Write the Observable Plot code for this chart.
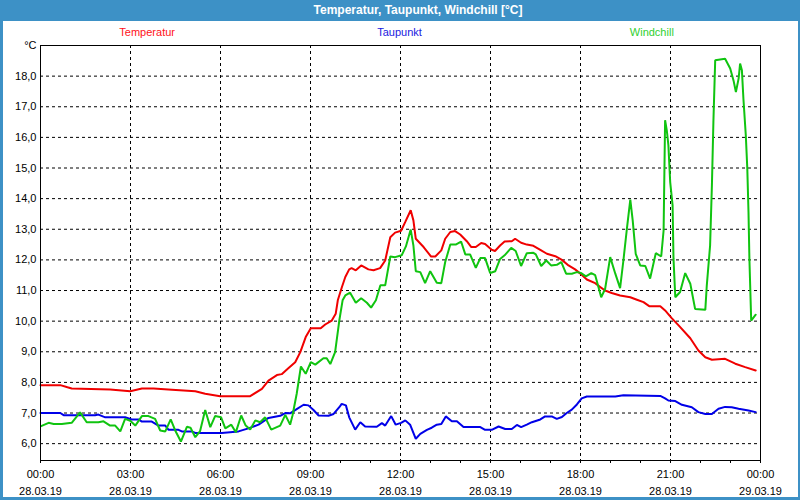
<!DOCTYPE html>
<html>
<head>
<meta charset="utf-8">
<script src="https://cdn.jsdelivr.net/npm/d3@7"></script>
<script src="https://cdn.jsdelivr.net/npm/@observablehq/plot@0.6"></script>
<style>
  html, body { margin: 0; padding: 0; background: #fff; }
  #win { position: relative; width: 800px; height: 500px; background: #3d91c6; overflow: hidden; font-family: "Liberation Sans", Arial, sans-serif; }
  #title { position: absolute; left: 36px; right: 0; top: 0; height: 21px; line-height: 21px; text-align: center; color: #fff; font-weight: bold; font-size: 12px; }
  #panel { position: absolute; left: 3px; top: 21px; width: 795px; height: 476px; background: #fff; }
  #legend { position: absolute; left: 18px; top: 5px; width: 757px; display: flex; font-size: 11px; }
  #legend span { flex: 1; text-align: center; }
  #chart { position: absolute; left: 0; top: 0; }
</style>
</head>
<body>
<div id="win">
  <div id="title">Temperatur, Taupunkt, Windchill [°C]</div>
  <div id="panel">
    <div id="chart"></div>
    <div id="legend"></div>
  </div>
</div>
<script>
// ---- data (hours since 28.03.19 00:00, °C) ----
const seriesNames = ["Temperatur", "Taupunkt", "Windchill"];
const seriesColors = ["#f00000", "#0000e8", "#10c410"];
const legendColors = ["#ff1020", "#2020e0", "#30d030"];

const tempHours = [0,0.66,0.9,1.04,2.32,2.99,3.38,3.77,4.38,5.16,5.49,5.99,6.99,7.38,7.6,7.88,8.04,8.27,8.49,8.66,8.84,9.01,9.34,9.49,9.71,9.84,9.91,10.04,10.16,10.29,10.37,10.51,10.69,10.93,11.1,11.32,11.49,11.66,11.82,12.02,12.16,12.34,12.43,12.51,12.77,13.02,13.16,13.36,13.49,13.66,13.82,13.99,14.21,14.36,14.51,14.69,14.82,15.04,15.15,15.32,15.47,15.71,15.82,16.02,16.21,16.43,16.66,16.88,17.16,17.38,17.6,17.82,18.02,18.21,18.49,18.66,18.82,19.04,19.32,19.66,19.88,20.1,20.29,20.66,20.82,21.04,21.27,21.66,21.93,22.16,22.38,22.82,23.16,23.49,23.84];
const tempValues = [7.91,7.91,7.84,7.8,7.77,7.71,7.8,7.8,7.76,7.71,7.63,7.55,7.55,7.79,8.06,8.24,8.27,8.47,8.66,8.99,9.48,9.77,9.77,9.89,10.02,10.24,10.68,11.09,11.44,11.69,11.73,11.66,11.82,11.69,11.66,11.73,11.98,12.74,12.89,12.95,13.24,13.62,13.29,12.69,12.42,12.11,12.11,12.31,12.69,12.91,12.94,12.83,12.61,12.42,12.42,12.55,12.52,12.33,12.29,12.47,12.6,12.61,12.69,12.56,12.5,12.46,12.33,12.2,12.12,12.0,11.82,11.69,11.53,11.36,11.24,11.11,11.0,10.92,10.84,10.78,10.7,10.62,10.49,10.49,10.35,10.1,9.86,9.44,9.04,8.82,8.74,8.77,8.61,8.5,8.39];

const dewHours = [0,0.66,0.77,1.82,1.93,2.16,2.82,3.04,3.27,3.38,3.71,3.93,4.16,4.27,4.6,4.71,5.04,5.16,6.04,6.6,6.93,7.27,7.6,7.99,8.16,8.32,8.54,8.77,8.93,9.1,9.27,9.6,9.77,9.96,10.04,10.18,10.29,10.49,10.66,10.82,11.21,11.38,11.49,11.69,11.84,12.02,12.16,12.32,12.51,12.66,12.88,13.04,13.21,13.36,13.51,13.71,13.88,14.1,14.66,14.82,15.04,15.27,15.49,15.71,15.88,16.02,16.21,16.38,16.66,16.82,17.04,17.21,17.38,17.54,17.71,17.88,18.04,18.21,19.16,19.43,20.66,20.82,20.93,21.16,21.38,21.71,21.93,22.16,22.38,22.6,22.82,23.04,23.27,23.6,23.84];
const dewValues = [7.0,7.0,6.93,6.93,6.95,6.86,6.86,6.79,6.79,6.72,6.72,6.59,6.59,6.45,6.45,6.4,6.4,6.35,6.35,6.4,6.5,6.62,6.84,6.91,7.0,6.99,7.13,7.27,7.25,7.1,6.92,6.91,6.97,7.19,7.3,7.25,6.86,6.46,6.7,6.56,6.55,6.67,6.59,6.9,6.62,6.68,6.76,6.62,6.16,6.32,6.45,6.52,6.62,6.64,6.89,6.73,6.73,6.54,6.54,6.45,6.45,6.56,6.48,6.48,6.61,6.54,6.62,6.7,6.79,6.89,6.89,6.81,6.87,7.0,7.11,7.28,7.48,7.54,7.54,7.58,7.56,7.48,7.41,7.39,7.27,7.19,7.03,6.97,6.97,7.14,7.2,7.19,7.14,7.08,7.03];

const chillHours = [0.02,0.27,0.44,0.71,1.04,1.32,1.54,1.93,2.1,2.32,2.49,2.66,2.82,2.99,3.16,3.38,3.6,3.82,3.99,4.16,4.34,4.49,4.68,4.88,5.0,5.16,5.32,5.49,5.66,5.82,6.02,6.16,6.36,6.51,6.69,6.84,6.99,7.16,7.32,7.49,7.69,7.99,8.16,8.32,8.4,8.54,8.68,8.84,9.01,9.16,9.43,9.54,9.66,9.82,9.96,10.07,10.16,10.32,10.51,10.69,10.88,11.02,11.18,11.33,11.49,11.66,11.82,12.04,12.18,12.34,12.43,12.51,12.66,12.82,12.99,13.21,13.36,13.49,13.66,13.84,14.02,14.16,14.32,14.51,14.66,14.82,14.99,15.16,15.32,15.47,15.69,15.84,16.02,16.21,16.43,16.51,16.69,16.86,17.02,17.21,17.36,17.52,17.71,17.88,18.02,18.18,18.36,18.49,18.6,18.69,18.82,18.99,19.16,19.32,19.43,19.54,19.66,19.74,19.84,19.99,20.16,20.32,20.51,20.69,20.77,20.82,20.88,20.93,20.99,21.07,21.1,21.16,21.32,21.49,21.66,21.82,22.16,22.21,22.32,22.38,22.43,22.49,22.82,22.99,23.1,23.18,23.27,23.32,23.38,23.43,23.51,23.56,23.6,23.63,23.69,23.84];
const chillValues = [6.57,6.68,6.64,6.64,6.68,7.02,6.7,6.7,6.73,6.59,6.59,6.4,6.81,6.75,6.59,6.9,6.9,6.81,6.43,6.4,6.79,6.43,6.07,6.55,6.52,6.21,6.41,7.1,6.54,6.9,6.86,6.5,6.62,6.37,6.92,6.59,6.46,6.76,6.7,6.86,6.46,6.59,6.94,6.62,6.92,7.63,8.52,8.28,8.66,8.58,8.79,8.79,8.6,8.99,10.02,10.68,10.84,10.93,10.6,10.75,10.6,10.44,10.68,11.17,11.17,12.11,12.09,12.15,12.44,12.99,12.47,11.63,11.6,11.24,11.63,11.25,11.24,11.93,12.5,12.5,12.6,12.18,12.18,11.74,12.06,12.06,11.57,11.63,12.03,12.15,12.39,12.29,11.8,12.22,12.23,12.18,11.8,11.98,11.82,11.84,11.93,11.55,11.55,11.6,11.57,11.46,11.57,11.5,11.11,10.78,11.05,12.09,11.55,11.08,11.98,12.96,13.97,13.29,12.2,11.82,11.8,11.39,12.22,12.11,12.96,16.56,16.2,15.74,14.54,13.78,12.04,10.78,10.95,11.57,11.22,10.4,10.37,11.17,12.47,14.43,16.5,18.52,18.57,18.25,17.86,17.48,17.92,18.41,18.19,17.27,16.07,14.98,13.56,12.04,10.02,10.21];

const yTicks = [6,7,8,9,10,11,12,13,14,15,16,17,18,19];
const yUnitLabel = "°C";

// ---- build ----
const t0 = new Date(2019, 2, 28, 0, 0);
const t1 = new Date(2019, 2, 29, 0, 0);
const toDate = h => new Date(+t0 + h * 3600000);
const rows = [];
[[tempHours, tempValues], [dewHours, dewValues], [chillHours, chillValues]].forEach(([hs, vs], i) => {
  hs.forEach((h, j) => rows.push({series: seriesNames[i], date: toDate(h), value: vs[j]}));
});
const majorTicks = d3.timeHour.every(3).range(t0, +t1 + 1);
const minorTicks = d3.timeHour.every(1).range(t0, +t1 + 1);
const fmt = d3.timeFormat("%H:%M\n%d.%m.%y");

const chart = Plot.plot({
  width: 795,
  height: 476,
  marginLeft: 37,
  marginRight: 38,
  marginTop: 24,
  marginBottom: 37,
  style: {background: "transparent", fontFamily: "'Liberation Sans', Arial, sans-serif", fontSize: "11px", color: "#000", overflow: "visible"},
  x: {type: "time", domain: [t0, t1]},
  y: {domain: [5.45, 19]},
  color: {domain: seriesNames, range: seriesColors},
  marks: [
    Plot.gridX(majorTicks, {stroke: "#000", strokeOpacity: 1, strokeDasharray: "3,3"}),
    Plot.gridY(yTicks, {stroke: "#000", strokeOpacity: 1, strokeDasharray: "3,3"}),
    Plot.axisX({ticks: minorTicks, tickSize: 3, tickFormat: () => "", label: null, stroke: "#000"}),
    Plot.axisX({ticks: majorTicks, tickSize: 3, tickPadding: 3, tickFormat: fmt, label: null, fontSize: 11, lineHeight: 1.5, fill: "#000", stroke: "#000"}),
    Plot.axisY({ticks: yTicks, tickSize: 0, tickPadding: 4, label: null, fontSize: 11, fill: "#000",
      tickFormat: d => d === 19 ? yUnitLabel : d.toFixed(1).replace(".", ",")}),
    Plot.line(rows, {x: "date", y: "value", z: "series", stroke: "series", strokeWidth: 2, strokeLinejoin: "miter"}),
    Plot.frame({stroke: "#000"})
  ]
});
document.getElementById("chart").appendChild(chart);

const legend = document.getElementById("legend");
seriesNames.forEach((n, i) => {
  const s = document.createElement("span");
  s.textContent = n;
  s.style.color = legendColors[i];
  legend.appendChild(s);
});
</script>
</body>
</html>
